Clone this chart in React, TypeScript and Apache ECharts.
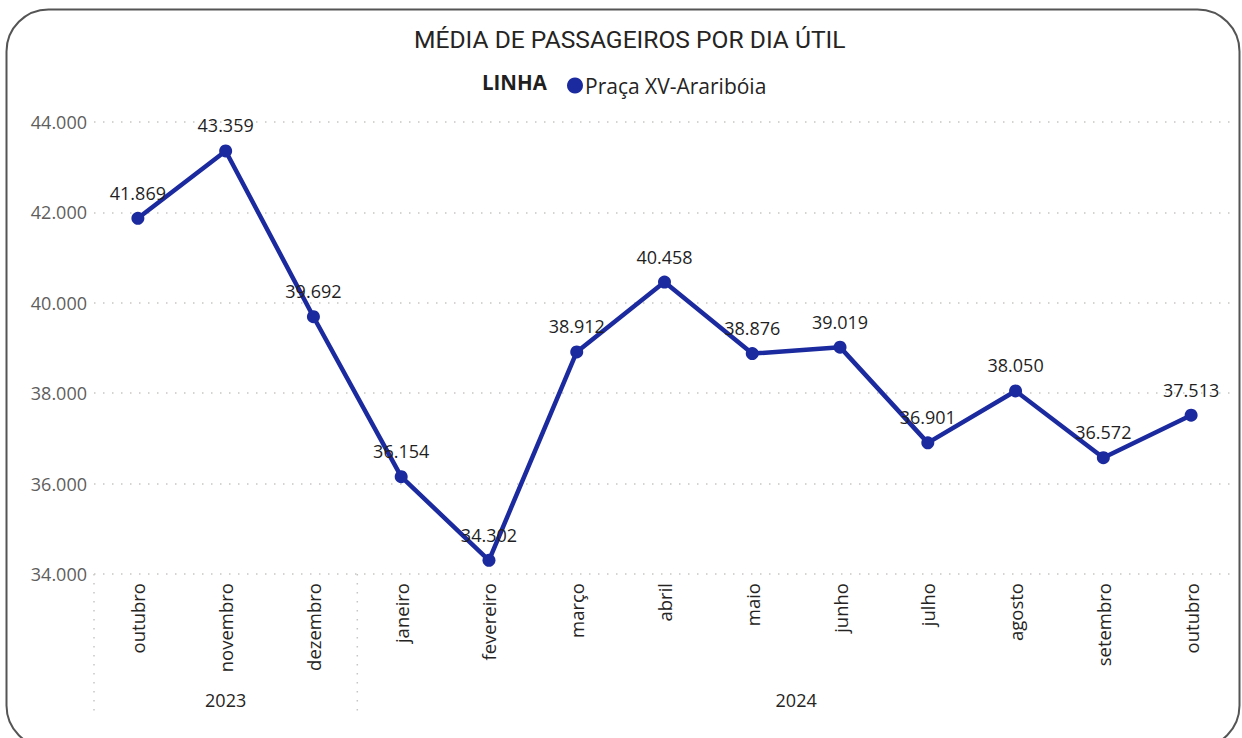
import React, { useEffect, useRef } from "react";
import * as echarts from "echarts";

const months = ["outubro", "novembro", "dezembro", "janeiro", "fevereiro", "março", "abril", "maio", "junho", "julho", "agosto", "setembro", "outubro"];
const values = [41869, 43359, 39692, 36154, 34302, 38912, 40458, 38876, 39019, 36901, 38050, 36572, 37513];
const years = ["2023", "2024"];
const yearStart = [0, 3];
const yearEnd = [2, 12];
const seriesName = "Praça XV-Araribóia";
const FONT = "'Segoe UI', 'Open Sans', 'Noto Sans', sans-serif";

const fmt = (v: number) => Math.round(v).toString().replace(/\B(?=(\d{3})+(?!\d))/g, ".");

export default function App() {
  const ref = useRef<HTMLDivElement>(null);
  useEffect(() => {
    if (!ref.current) return;
    const chart = echarts.init(ref.current, null, { renderer: "svg" });
    const option: any = {
      animation: false,
      backgroundColor: "#ffffff",
      title: {
        text: "MÉDIA DE PASSAGEIROS POR DIA ÚTIL",
        left: 409,
        top: 22,
        textStyle: { fontFamily: "Roboto, sans-serif", fontSize: 24.6, fontWeight: "normal", color: "#252423" },
      },
      legend: {
        data: [seriesName],
        left: 562,
        top: 70,
        icon: "circle",
        itemWidth: 16,
        itemHeight: 16,
        itemGap: 4,
        textStyle: { fontFamily: FONT, fontSize: 21, color: "#252423", padding: [0, 0, 0, -3] },
      },
      grid: { left: 94, right: 7, top: 122, bottom: 164 },
      xAxis: {
        type: "category",
        data: months,
        boundaryGap: true,
        axisLine: { show: false },
        axisTick: { show: false },
        axisLabel: { rotate: 90, fontFamily: FONT, fontSize: 18.5, color: "#252423", margin: 9, interval: 0 },
      },
      yAxis: {
        type: "value",
        min: 34000,
        max: 44000,
        interval: 2000,
        axisLabel: { formatter: (v: number) => fmt(v), fontFamily: FONT, fontSize: 18, color: "#605E5C", margin: 7 },
        axisLine: { show: false },
        axisTick: { show: false },
        splitLine: { lineStyle: { color: "#c8c6c4", type: [1.5, 7.5], width: 1.5 } },
      },
      series: [
        {
          name: seriesName,
          type: "line",
          data: values,
          symbol: "circle",
          symbolSize: 13,
          itemStyle: { color: "#1b2a9e" },
          lineStyle: { color: "#1b2a9e", width: 4.5 },
          label: {
            show: true,
            position: "top",
            distance: 10,
            formatter: (p: any) => fmt(p.value),
            fontFamily: FONT,
            fontSize: 18,
            color: "#1f1f1f",
          },
        },
      ],
      graphic: [],
    };
    chart.setOption(option);

    const gs: any[] = [
      {
        type: "rect",
        shape: { x: 6.5, y: 9.5, width: 1233, height: 738, r: 42 },
        style: { fill: "none", stroke: "#555555", lineWidth: 2 },
        silent: true,
        z: 100,
      },
      {
        type: "text",
        left: 482,
        top: 71,
        style: { text: "LINHA", fontFamily: FONT, fontSize: 20.5, fontWeight: "bold", fill: "#1f1f1f" },
      },
    ];
    const yTop = chart.convertToPixel({ yAxisIndex: 0 }, 34000) as number;
    const step = (chart.convertToPixel({ xAxisIndex: 0 }, 1) as number) - (chart.convertToPixel({ xAxisIndex: 0 }, 0) as number);
    const sepStyle = { stroke: "#c8c6c4", lineWidth: 1.5, lineDash: [1.5, 7.5] };
    years.forEach((y, i) => {
      const x0 = (chart.convertToPixel({ xAxisIndex: 0 }, yearStart[i]) as number) - step / 2;
      const x1 = (chart.convertToPixel({ xAxisIndex: 0 }, yearEnd[i]) as number) + step / 2;
      gs.push({ type: "line", shape: { x1: x0, y1: yTop, x2: x0, y2: yTop + 142 }, style: sepStyle, silent: true });
      gs.push({
        type: "text",
        x: (x0 + x1) / 2,
        y: 700,
        style: { text: y, fontFamily: FONT, fontSize: 18, fill: "#252423", align: "center", verticalAlign: "middle" },
      });
    });
    chart.setOption({ graphic: gs });
    return () => chart.dispose();
  }, []);
  return <div ref={ref} style={{ position: "fixed", left: 0, top: 0, width: 1242, height: 738 }} />;
}
